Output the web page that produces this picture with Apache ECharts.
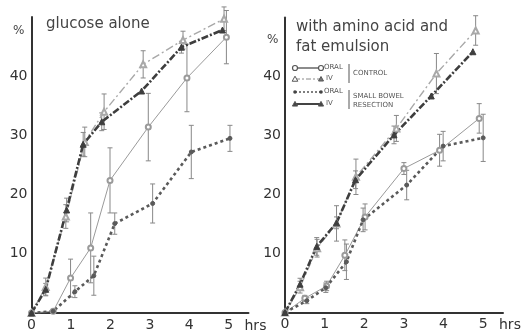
<!DOCTYPE html>
<html><head><meta charset="utf-8">
<script src="https://cdn.jsdelivr.net/npm/echarts@6/dist/echarts.min.js"></script>
<style>html,body{margin:0;padding:0;background:#fff}#c{width:530px;height:334px}</style>
</head><body><div id="c"></div>
<script>
// ---- Panel A: glucose alone ----
const aCtrlOralT = [0, 0.55, 0.99, 1.5, 1.99, 2.96, 3.94, 4.94];
const aCtrlOralY = [0, 0.3, 5.9, 11.0, 22.4, 31.4, 39.7, 46.6];
const aCtrlOralE = [0, 0, 3.2, 5.9, 5.5, 5.7, 5.7, 4.5];
const aCtrlIvT = [0, 0.36, 0.87, 1.35, 1.84, 2.83, 3.84, 4.88];
const aCtrlIvY = [0, 4.4, 16.3, 28.9, 34.0, 42.0, 46.1, 49.7];
const aCtrlIvE = [0, 1.5, 2, 2.5, 3, 2.3, 1.5, 2];
const aSbrOralT = [0, 0.55, 1.1, 1.58, 2.11, 3.07, 4.05, 5.03];
const aSbrOralY = [0, 0.3, 3.6, 6.3, 15.1, 18.5, 27.2, 29.5];
const aSbrOralE = [0, 0, 1, 3.3, 1.8, 3.3, 4.5, 2.2];
const aSbrIvT = [0, 0.36, 0.89, 1.31, 1.78, 2.79, 3.8, 4.84];
const aSbrIvY = [0, 4.0, 17.4, 28.5, 32.3, 37.5, 44.9, 47.8];
const aSbrIvE = [0, 1, 2, 2, 1.5, 0, 1, 0];
// ---- Panel B: with amino acid and fat emulsion ----
const bCtrlOralT = [0, 0.5, 1.05, 1.51, 2.02, 3.0, 3.9, 4.9];
const bCtrlOralY = [0, 2.4, 4.5, 9.7, 16.2, 24.4, 27.5, 32.9];
const bCtrlOralE = [0, 0.5, 0.8, 2.6, 2.2, 1, 2.7, 2.5];
const bCtrlIvT = [0, 0.38, 0.81, 1.3, 1.79, 2.81, 3.82, 4.81];
const bCtrlIvY = [0, 4.3, 10.9, 15.1, 23.0, 31.2, 40.5, 47.8];
const bCtrlIvE = [0, 1, 1.5, 3, 3, 2.2, 3.4, 2.5];
const bSbrOralT = [0, 0.55, 1.03, 1.55, 1.97, 3.07, 3.99, 5.0];
const bSbrOralY = [0, 2.0, 4.2, 8.6, 15.7, 21.6, 28.2, 29.6];
const bSbrOralE = [0, 0.5, 0.8, 3, 2, 2.5, 2.5, 4];
const bSbrIvT = [0, 0.38, 0.8, 1.3, 1.78, 2.75, 3.69, 4.74];
const bSbrIvY = [0, 4.8, 11.2, 15.2, 22.5, 30.1, 36.7, 44.2];
const bSbrIvE = [0, 1, 1.5, 1, 1.5, 1.5, 0, 0];

const xTicks = [0, 1, 2, 3, 4, 5];
const yTicks = [10, 20, 30, 40];
const titleA = 'glucose alone';
const titleB = 'with amino acid and\nfat emulsion';

const FONT = 'DejaVu Sans';
const styles = {
  ctrlOral: {color:'#9a9a9a', width:1, type:'solid', symbol:'emptyCircle', size:5},
  ctrlIv: {color:'#a8a8a8', width:1.4, type:[8,3,2,3], symbol:'emptyTriangle', size:6},
  sbrOral: {color:'#5a5a5a', width:2.6, type:[3,3], symbol:'circle', size:4},
  sbrIv: {color:'#3e3e3e', width:2.6, type:[7,2,2,2], symbol:'triangle', size:6}
};
function pts(t, y){ return t.map((v,i)=>[v, y[i]]); }
function errs(t, y, e){ const r=[]; t.forEach((v,i)=>{ if(e[i]>0) r.push([v, y[i]-e[i], y[i]+e[i]]); }); return r; }
function lineSeries(idx, t, y, s){
  return {type:'line', xAxisIndex:idx, yAxisIndex:idx, data:pts(t,y), symbol:s.symbol, symbolSize:s.size,
    showSymbol:true, z:3, silent:true, animation:false,
    lineStyle:{color:s.color, width:s.width, type:s.type}, itemStyle:{color:s.color, borderColor:s.color, borderWidth:1}};
}
function errSeries(idx, t, y, e){
  return {type:'custom', xAxisIndex:idx, yAxisIndex:idx, coordinateSystem:'cartesian2d', data:errs(t,y,e), z:2,
    encode:{x:0, y:[1,2]}, silent:true, animation:false,
    renderItem:(params, api)=>{
      const x=api.value(0), lo=api.value(1), hi=api.value(2);
      const p1=api.coord([x,hi]), p2=api.coord([x,lo]); const w=2.5;
      const st={stroke:'#888', lineWidth:1};
      return {type:'group', children:[
        {type:'line', shape:{x1:p1[0],y1:p1[1],x2:p2[0],y2:p2[1]}, style:st},
        {type:'line', shape:{x1:p1[0]-w,y1:p1[1],x2:p1[0]+w,y2:p1[1]}, style:st},
        {type:'line', shape:{x1:p2[0]-w,y1:p2[1],x2:p2[0]+w,y2:p2[1]}, style:st}
      ]};
    }};
}
function xAxis(idx){
  return {type:'value', gridIndex:idx, min:0, max:5.5, interval:1, splitLine:{show:false}, axisTick:{show:false},
    axisLine:{lineStyle:{color:'#333', width:2}},
    axisLabel:{color:'#333', fontFamily:FONT, fontSize:14, margin:5,
      formatter:v=> xTicks.indexOf(v)>=0 ? String(v) : ''},
    name:'hrs', nameLocation:'end', nameGap:-4,
    nameTextStyle:{color:'#333', fontFamily:FONT, fontSize:14, verticalAlign:'top', padding:[6,0,0,0]}};
}
function yAxis(idx){
  return {type:'value', gridIndex:idx, min:0, max:50, interval:10, splitLine:{show:false}, axisTick:{show:false},
    axisLine:{lineStyle:{color:'#333', width:2}},
    axisLabel:{color:'#333', fontFamily:FONT, fontSize:14, margin:4,
      formatter:v=> yTicks.indexOf(v)>=0 ? String(v) : ''}};
}
const series = [];
[[0,[aCtrlOralT,aCtrlOralY,aCtrlOralE,'ctrlOral'],[aCtrlIvT,aCtrlIvY,aCtrlIvE,'ctrlIv'],[aSbrOralT,aSbrOralY,aSbrOralE,'sbrOral'],[aSbrIvT,aSbrIvY,aSbrIvE,'sbrIv']],
 [1,[bCtrlOralT,bCtrlOralY,bCtrlOralE,'ctrlOral'],[bCtrlIvT,bCtrlIvY,bCtrlIvE,'ctrlIv'],[bSbrOralT,bSbrOralY,bSbrOralE,'sbrOral'],[bSbrIvT,bSbrIvY,bSbrIvE,'sbrIv']]
].forEach(p=>{
  const idx=p[0];
  for(let k=1;k<p.length;k++){ const [t,y,e,s]=p[k]; series.push(errSeries(idx,t,y,e)); series.push(lineSeries(idx,t,y,styles[s])); }
});

// legend graphics (right panel)
const lx1=295, lx2=321, tf = {fontFamily:FONT, fontSize:7, fill:'#555'};
function tri(cx,cy,r,fill){ return {type:'polygon', shape:{points:[[cx,cy-r],[cx-r,cy+r*0.8],[cx+r,cy+r*0.8]]}, style:{fill:fill, stroke:'#555', lineWidth:1}}; }
const graphic = [
  {type:'text', left:13, top:25, style:{text:'%', fontFamily:FONT, fontSize:12, fill:'#444'}},
  {type:'text', left:267, top:34, style:{text:'%', fontFamily:FONT, fontSize:12, fill:'#444'}},
  {type:'line', shape:{x1:lx1,y1:68,x2:lx2,y2:68}, style:{stroke:'#666', lineWidth:1.5}},
  {type:'circle', shape:{cx:lx1,cy:68,r:2.5}, style:{fill:'#fff', stroke:'#555', lineWidth:1.2}},
  {type:'circle', shape:{cx:lx2,cy:68,r:2.5}, style:{fill:'#fff', stroke:'#555', lineWidth:1.2}},
  {type:'text', x:324, y:64, style:Object.assign({text:'ORAL'},tf)},
  {type:'line', shape:{x1:lx1,y1:79,x2:lx2,y2:79}, style:{stroke:'#888', lineWidth:1, lineDash:[5,2,2,2]}},
  tri(lx1,79,2.8,'#fff'), tri(lx2,79,2.5,'#777'),
  {type:'text', x:326, y:75, style:Object.assign({text:'IV'},tf)},
  {type:'line', shape:{x1:349,y1:64,x2:349,y2:83}, style:{stroke:'#555', lineWidth:1}},
  {type:'text', x:353, y:70, style:Object.assign({text:'CONTROL'},tf)},
  {type:'line', shape:{x1:lx1,y1:92,x2:lx2,y2:92}, style:{stroke:'#555', lineWidth:1.5, lineDash:[2,2]}},
  {type:'circle', shape:{cx:lx1,cy:92,r:1.8}, style:{fill:'#444'}},
  {type:'circle', shape:{cx:lx2,cy:92,r:1.8}, style:{fill:'#444'}},
  {type:'text', x:324, y:88, style:Object.assign({text:'ORAL'},tf)},
  {type:'line', shape:{x1:lx1,y1:104,x2:lx2,y2:104}, style:{stroke:'#444', lineWidth:2}},
  tri(lx1,104,2.6,'#444'), tri(lx2,104,2.6,'#444'),
  {type:'text', x:326, y:100, style:Object.assign({text:'IV'},tf)},
  {type:'line', shape:{x1:349,y1:90,x2:349,y2:109}, style:{stroke:'#555', lineWidth:1}},
  {type:'text', x:353, y:93, style:Object.assign({text:'SMALL BOWEL'},tf)},
  {type:'text', x:353, y:102, style:Object.assign({text:'RESECTION'},tf)}
];

const chart = echarts.init(document.getElementById('c'), null, {renderer:'canvas'});
chart.setOption({
  backgroundColor:'#fff', animation:false,
  title:[
    {text:titleA, left:41, top:12, textStyle:{fontFamily:FONT, fontSize:15, fontWeight:'normal', color:'#444'}},
    {text:titleB, left:291, top:12, textStyle:{fontFamily:FONT, fontSize:15, fontWeight:'normal', color:'#444', lineHeight:20}}
  ],
  grid:[
    {left:31.5, top:17, width:217, height:296},
    {left:285, top:17.5, width:218, height:295}
  ],
  xAxis:[xAxis(0), xAxis(1)],
  yAxis:[yAxis(0), yAxis(1)],
  series:series,
  graphic:graphic
});
</script></body></html>
